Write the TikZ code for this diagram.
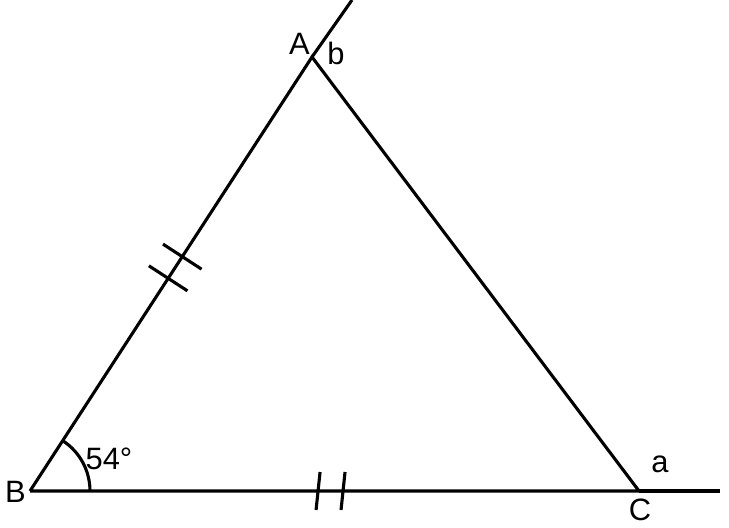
\documentclass[tikz,border=0pt]{standalone}
\usepackage{fontspec}
\setmainfont{Liberation Sans}
\usetikzlibrary{calc}

\begin{document}
\begin{tikzpicture}[x=1bp,y=1bp,line width=3.1bp,
  lbl/.style={anchor=base,inner sep=0pt,font=\fontsize{31}{37}\selectfont}]
\useasboundingbox (0,0) rectangle (729,528);
\coordinate (B) at (30,37);
\coordinate (C) at (639,37);
\coordinate (A) at (312,471);
\coordinate (Aend) at (352,528);
\coordinate (Cend) at (720,37);
\draw (B)--(C)--(A)--(B);
\draw (A)--(Aend);
\draw (C)--(Cend);
% angle at B
\draw ($(B)+(60bp,0)$) arc[start angle=0,end angle=57,radius=60bp];
% ticks on AB
\coordinate (t1) at ($(B)!0.49!(A)$);
\coordinate (t2) at ($(B)!0.54!(A)$);
\draw ($(t1)!23bp!90:(A)$)--($(t1)!23bp!-90:(A)$);
\draw ($(t2)!23bp!90:(A)$)--($(t2)!23bp!-90:(A)$);
% ticks on BC
\coordinate (t3) at ($(B)!0.473!(C)$);
\coordinate (t4) at ($(B)!0.514!(C)$);
\draw ($(t3)+(2,19)$)--($(t3)+(-2,-19)$);
\draw ($(t4)+(2,19)$)--($(t4)+(-2,-19)$);
\node[lbl] (labA) at (299.5,473){A};
\node[lbl] (labb) at (336,463){b};
\node[lbl] (ang) at (109,58){54°};
\node[lbl] (labB) at (15.5,25){B};
\node[lbl] (labC) at (640,7){C};
\node[lbl] (laba) at (660,55){a};
\end{tikzpicture}
\end{document}
